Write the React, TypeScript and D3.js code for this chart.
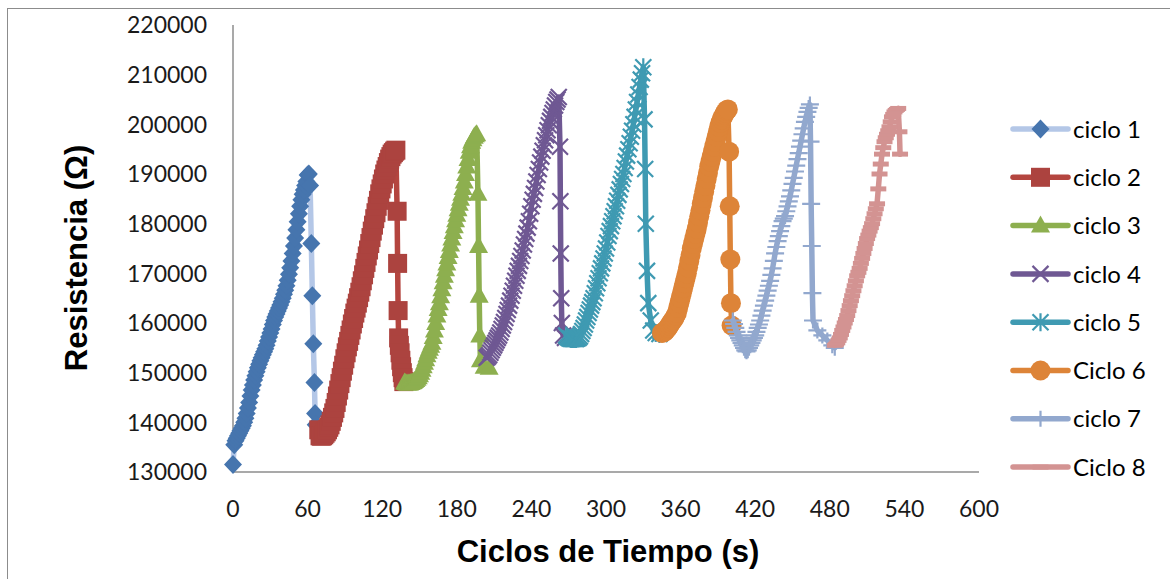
import React from 'react'
import * as d3 from 'd3'

// t (s), R (ohm)
const ciclo1: [number, number][] = [
  [0, 131500], [1, 135500], [2, 136300], [3, 136800], [4, 137300], [5, 137800], [6, 138300], [7, 138800], [8, 139300],
  [9, 140000], [10, 140800], [11, 141800], [12, 142900], [13, 144000], [14, 145300], [15, 146500], [16, 147500],
  [17, 148500], [18, 149400], [19, 150200], [20, 151000], [21, 151700], [22, 152400], [23, 153000], [24, 153600],
  [25, 154200], [26, 154800], [27, 155500], [28, 156400], [29, 157200], [30, 158000], [31, 158800], [32, 159700],
  [33, 160500], [34, 161200], [35, 161800], [36, 162400], [37, 163000], [38, 163600], [39, 164300], [40, 165000],
  [41, 165800], [42, 166600], [43, 167500], [44, 168600], [45, 169800], [46, 171100], [47, 172500], [48, 174000],
  [49, 175500], [50, 177100], [51, 178800], [52, 180400], [53, 182000], [54, 183500], [55, 184800], [56, 185900],
  [57, 186800], [58, 187700], [59, 188500], [60, 189800], [61, 190000], [62, 187700], [63, 176000], [63.8, 165500],
  [64.6, 155800], [65.5, 148000], [66, 141800], [66.5, 139500],
]
const ciclo2: [number, number][] = [
  [69, 138500], [70, 137300], [71, 137200], [72, 137300], [73, 137500], [74, 137800], [75, 138100], [76, 138500],
  [77, 139000], [78, 139500], [79, 140200], [80, 141000], [81, 141900], [82, 142800], [83, 144000], [84, 145300],
  [85, 146500], [86, 147800], [87, 149000], [88, 150300], [89, 151500], [90, 152800], [91, 154000], [92, 155200],
  [93, 156300], [94, 157500], [95, 158600], [96, 159800], [97, 160900], [98, 162000], [99, 163000], [100, 164000],
  [101, 165100], [102, 166200], [103, 167300], [104, 168500], [105, 169700], [106, 171000], [107, 172200], [108, 173500],
  [109, 174700], [110, 176000], [111, 177200], [112, 178500], [113, 179700], [114, 181000], [115, 182200], [116, 183500],
  [117, 184700], [118, 186000], [119, 187000], [120, 188000], [121, 189000], [122, 190000], [123, 190800], [124, 191500],
  [125, 192300], [126, 193000], [127, 193500], [128, 194000], [129, 194300], [130, 194600], [131, 194800],
  [132, 182500], [132.4, 172000], [132.8, 162500], [133.2, 157000], [133.8, 155500], [134.4, 154000], [135, 152500],
  [135.6, 151200], [136.2, 150000], [136.8, 149000], [137.4, 148200],
]
const ciclo3: [number, number][] = [
  [138, 148000], [139, 147900], [140, 147800], [141, 147800], [142, 147800], [143, 147900], [144, 148000], [145, 148100],
  [146, 148300], [147, 148500], [148, 148800], [149, 149100], [150, 149500], [151, 150000], [152, 150600], [153, 151300],
  [154, 152000], [155, 152700], [156, 153500], [157, 154200], [158, 154800], [159, 155400], [160, 156000], [161, 157200],
  [162, 158500], [163, 160000], [164, 161500], [165, 162800], [166, 164000], [167, 165400], [168, 166800], [169, 168200],
  [170, 169500], [171, 170800], [172, 172000], [173, 173300], [174, 174500], [175, 175800], [176, 177000], [177, 178300],
  [178, 179500], [179, 180700], [180, 181800], [181, 182900], [182, 184000], [183, 185000], [184, 186000], [185, 187200],
  [186, 188500], [187, 190000], [188, 191500], [189, 193000], [190, 194500], [191, 195600], [192, 196500], [193, 197000],
  [194, 197500], [195, 197800], [196, 198000], [197, 186000], [197.5, 175500], [198, 165500], [198.5, 157500],
  [199, 152500], [202, 151200], [206, 151000],
]
const ciclo4: [number, number][] = [
  [204, 153000], [205, 153200], [206, 153500], [207, 154000], [208, 154500], [209, 155000], [210, 155500], [211, 156000],
  [212, 156500], [213, 157000], [214, 157500], [215, 158100], [216, 158800], [217, 159500], [218, 160200], [219, 161000],
  [220, 161800], [221, 162600], [222, 163500], [223, 164500], [224, 165500], [225, 166500], [226, 167500], [227, 168500],
  [228, 169500], [229, 170500], [230, 171500], [231, 172500], [232, 173500], [233, 174600], [234, 175800], [235, 176900],
  [236, 178000], [237, 179200], [238, 180500], [239, 182000], [240, 183500], [241, 184800], [242, 186000], [243, 187200],
  [244, 188500], [245, 189800], [246, 191000], [247, 192300], [248, 193500], [249, 194700], [250, 195800], [251, 196800],
  [252, 197800], [253, 198800], [254, 199800], [255, 200700], [256, 201500], [257, 202300], [258, 203000], [259, 203800],
  [260, 204500], [261, 205000], [262, 205500], [263, 195500], [263.3, 184500], [263.6, 174000], [264, 165000],
  [264.5, 160000], [265.5, 157500], [267, 157000], [268, 157500],
]
const ciclo5: [number, number][] = [
  [268, 157500], [269, 157200], [270, 157000], [271, 156900], [272, 156800], [273, 156800], [274, 156800], [275, 156800],
  [276, 156800], [277, 156900], [278, 157000], [279, 157300], [280, 157800], [281, 158400], [282, 159000], [283, 159700],
  [284, 160500], [285, 161200], [286, 162000], [287, 162700], [288, 163500], [289, 164200], [290, 165000], [291, 166000],
  [292, 167000], [293, 168000], [294, 169000], [295, 170000], [296, 171000], [297, 172000], [298, 173000], [299, 174000],
  [300, 175000], [301, 176200], [302, 177500], [303, 178500], [304, 179500], [305, 180500], [306, 181500], [307, 182500],
  [308, 183500], [309, 184600], [310, 185800], [311, 186900], [312, 188000], [313, 189000], [314, 190000], [315, 191200],
  [316, 192500], [317, 193700], [318, 195000], [319, 196200], [320, 197500], [321, 198700], [322, 200000], [323, 201500],
  [324, 203000], [325, 204500], [326, 206000], [327, 207500], [328, 209000], [329, 210300], [330, 211500],
  [331, 201000], [331.5, 191000], [332, 180000], [333, 170500], [334, 164000], [336, 160500], [338, 158500],
  [340, 158000], [343, 157800],
]
const ciclo6: [number, number][] = [
  [345, 158000], [346, 158100], [347, 158200], [348, 158500], [349, 158800], [350, 159100], [351, 159500], [352, 159900],
  [353, 160300], [354, 160600], [355, 161000], [356, 161500], [357, 162000], [358, 163000], [359, 164000], [360, 165000],
  [361, 166000], [362, 167000], [363, 168000], [364, 169000], [365, 170000], [366, 171200], [367, 172500], [368, 173700],
  [369, 175000], [370, 176000], [371, 177000], [372, 178000], [373, 179000], [374, 180200], [375, 181500], [376, 182700],
  [377, 184000], [378, 185200], [379, 186500], [380, 187700], [381, 189000], [382, 190200], [383, 191500], [384, 192500],
  [385, 193500], [386, 194500], [387, 195500], [388, 196500], [389, 197500], [390, 198500], [391, 199500], [392, 200300],
  [393, 201000], [394, 201500], [395, 202000], [396, 202400], [397, 202800], [398, 203000], [399, 194500],
  [399.5, 183500], [400, 172800], [400.5, 164000], [401, 159500],
]
const ciclo7: [number, number][] = [
  [402, 160500], [403, 159800], [404, 159000], [405, 158200], [406, 157500], [407, 157000], [408, 156500], [409, 156000],
  [410, 155500], [411, 155000], [412, 154500], [413, 154300], [414, 154500], [415, 155000], [416, 155500], [417, 156000],
  [418, 156500], [419, 157000], [420, 157500], [421, 158200], [422, 159000], [423, 159700], [424, 160500], [425, 161500],
  [426, 162500], [427, 163500], [428, 164500], [429, 165500], [430, 166500], [431, 167500], [432, 168500], [433, 169700],
  [434, 171000], [435, 172500], [436, 174000], [437, 175300], [438, 176500], [439, 177500], [440, 178500], [441, 179500],
  [442, 180500], [443, 181000], [444, 181500], [445, 182500], [446, 183500], [447, 184500], [448, 185500], [449, 186700],
  [450, 188000], [451, 189200], [452, 190500], [453, 191700], [454, 193000], [455, 194200], [456, 195500], [457, 196700],
  [458, 198000], [459, 199200], [460, 200500], [461, 201500], [462, 202500], [463, 203300], [464, 204000],
  [464.5, 196500], [465, 184000], [465.5, 175500], [466, 166000], [466.5, 160500], [470, 158500], [474, 157500],
  [478, 156500], [482, 155500], [484, 155000],
]
const ciclo8: [number, number][] = [
  [484, 155500], [485, 155700], [486, 156000], [487, 156500], [488, 157000], [489, 157700], [490, 158500], [491, 159200],
  [492, 160000], [493, 160700], [494, 161500], [495, 162500], [496, 163500], [497, 164500], [498, 165500], [499, 166500],
  [500, 167500], [501, 168500], [502, 169500], [503, 170200], [504, 171000], [505, 172000], [506, 173000], [507, 174000],
  [508, 175000], [509, 176000], [510, 177000], [511, 177700], [512, 178500], [513, 179200], [514, 180000], [515, 181000],
  [516, 182000], [517, 183000], [518, 184000], [519, 187000], [520, 190000], [521, 192000], [522, 194000], [523, 195300],
  [524, 196500], [525, 197300], [526, 198000], [527, 198700], [528, 199500], [529, 200500], [530, 201500], [531, 202000],
  [532, 202500], [533, 202800], [534, 203000], [535, 203200], [536, 198500], [536.5, 194000],
]

const seriesNames = ['ciclo 1', 'ciclo 2', 'ciclo 3', 'ciclo 4', 'ciclo 5', 'Ciclo 6', 'ciclo 7', 'Ciclo 8']
const seriesData = [ciclo1, ciclo2, ciclo3, ciclo4, ciclo5, ciclo6, ciclo7, ciclo8]
const xTicks = [0, 60, 120, 180, 240, 300, 360, 420, 480, 540, 600]
const yTicks = [130000, 140000, 150000, 160000, 170000, 180000, 190000, 200000, 210000, 220000]

const styles = [
  { line: '#B4C7E7', mark: '#4675AE', shape: 'diamond' },
  { line: '#B4453F', mark: '#AC433F', shape: 'square' },
  { line: '#8DAF4F', mark: '#8DAF4F', shape: 'triangle' },
  { line: '#6F5893', mark: '#6F5893', shape: 'x' },
  { line: '#3F9AB2', mark: '#3F9AB2', shape: 'star' },
  { line: '#DD8438', mark: '#DD8438', shape: 'circle' },
  { line: '#92A8CE', mark: '#92A8CE', shape: 'plus' },
  { line: '#D39392', mark: '#D39392', shape: 'dash' },
]

const W = 1170
const H = 579
const TICK_FONT = 'Lato, "Open Sans", sans-serif'
const TITLE_FONT = '"Liberation Sans", Arial, sans-serif'

function Marker({ shape, cx, cy, color }: { shape: string; cx: number; cy: number; color: string }) {
  switch (shape) {
    case 'diamond':
      return <path d={`M${cx},${cy - 9.5}L${cx + 9},${cy}L${cx},${cy + 9.5}L${cx - 9},${cy}Z`} fill={color} />
    case 'square':
      return <rect x={cx - 9.5} y={cy - 9.5} width={19} height={19} fill={color} />
    case 'triangle':
      return <path d={`M${cx},${cy - 10}L${cx + 9.5},${cy + 7}L${cx - 9.5},${cy + 7}Z`} fill={color} />
    case 'x':
      return <path d={`M${cx - 8},${cy - 8}L${cx + 8},${cy + 8}M${cx + 8},${cy - 8}L${cx - 8},${cy + 8}`} stroke={color} strokeWidth={2.2} fill="none" />
    case 'star':
      return <path d={`M${cx - 8},${cy - 8}L${cx + 8},${cy + 8}M${cx + 8},${cy - 8}L${cx - 8},${cy + 8}M${cx},${cy - 9}L${cx},${cy + 9}`} stroke={color} strokeWidth={2.2} fill="none" />
    case 'circle':
      return <circle cx={cx} cy={cy} r={10} fill={color} />
    case 'plus':
      return <path d={`M${cx - 9},${cy}L${cx + 9},${cy}M${cx},${cy - 8}L${cx},${cy + 8}`} stroke={color} strokeWidth={2.2} fill="none" />
    case 'dash':
      return <path d={`M${cx - 8},${cy}L${cx + 8},${cy}`} stroke={color} strokeWidth={5} fill="none" />
    default:
      return null
  }
}

export default function App() {
  const x = d3.scaleLinear().domain([0, 600]).range([233, 979])
  const y = d3.scaleLinear().domain([130000, 220000]).range([472, 25])
  const line = d3.line<[number, number]>().x(d => x(d[0])).y(d => y(d[1]))

  const legendX0 = 1013
  const legendX1 = 1068
  const legendY0 = 129
  const legendStep = 48.3

  return (
    <svg width={W} height={H} style={{ position: 'absolute', left: 0, top: 0, background: '#fff' }}>
      <rect x={7.5} y={8.5} width={W + 10} height={H + 10} fill="#fff" stroke="#8c8c8c" strokeWidth={1} />

      {/* axes */}
      <line x1={x(0)} x2={x(0)} y1={y(220000)} y2={y(130000)} stroke="#8c8c8c" strokeWidth={1.5} />
      <line x1={x(0)} x2={x(600)} y1={y(130000)} y2={y(130000)} stroke="#8c8c8c" strokeWidth={1.5} />

      {yTicks.map(v => (
        <text key={v} x={207} y={y(v)} dy="0.36em" textAnchor="end" fontFamily={TICK_FONT} fontSize={23} fill="#1a1a1a">
          {v}
        </text>
      ))}
      {xTicks.map(v => (
        <text key={v} x={x(v)} y={517} textAnchor="middle" fontFamily={TICK_FONT} fontSize={23} fill="#1a1a1a">
          {v}
        </text>
      ))}

      <text x={608} y={562} textAnchor="middle" fontFamily={TITLE_FONT} fontWeight="bold" fontSize={31} fill="#000">
        Ciclos de Tiempo (s)
      </text>
      <text transform="translate(87,258) rotate(-90)" textAnchor="middle" fontFamily={TITLE_FONT} fontWeight="bold" fontSize={31} fill="#000">
        Resistencia (Ω)
      </text>

      {/* series */}
      {seriesData.map((data, i) => (
        <g key={i}>
          <path d={line(data) ?? ''} fill="none" stroke={styles[i].line} strokeWidth={5.5} strokeLinejoin="round" strokeLinecap="round" />
          {data.map((d, j) => (
            <Marker key={j} shape={styles[i].shape} cx={x(d[0])} cy={y(d[1])} color={styles[i].mark} />
          ))}
        </g>
      ))}

      {/* legend */}
      {seriesNames.map((name, i) => {
        const ly = legendY0 + i * legendStep
        return (
          <g key={name}>
            <line x1={legendX0} x2={legendX1} y1={ly} y2={ly} stroke={styles[i].line} strokeWidth={5.5} strokeLinecap="round" />
            <Marker shape={styles[i].shape} cx={(legendX0 + legendX1) / 2} cy={ly} color={styles[i].mark} />
            <text x={1073} y={ly} dy="0.36em" fontFamily={TICK_FONT} fontSize={24} fill="#000">
              {name}
            </text>
          </g>
        )
      })}
    </svg>
  )
}
